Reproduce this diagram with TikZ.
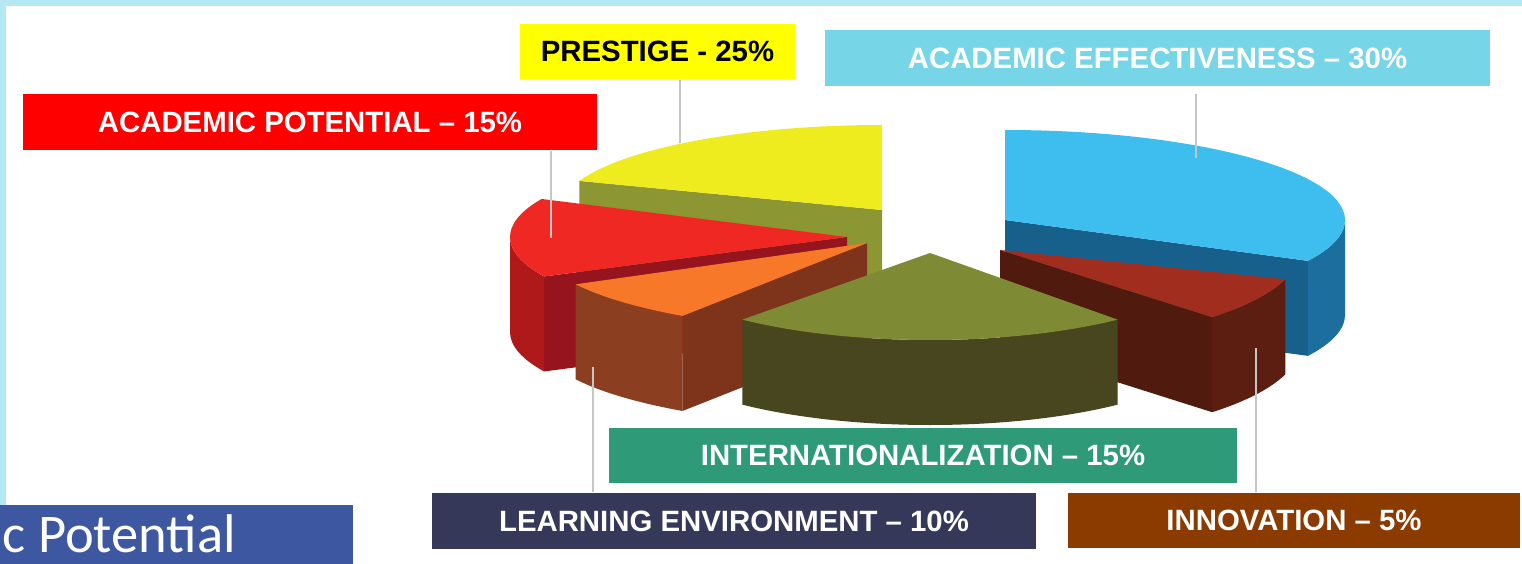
\documentclass[tikz,border=0pt]{standalone}
\usepackage{fontspec}
\setmainfont{Liberation Sans}
\newfontfamily\titlefont{Carlito}
\usetikzlibrary{calc,positioning}
\definecolor{framecyan}{RGB}{180,232,243}
\definecolor{potentialred}{RGB}{255,0,0}
\definecolor{prestigeyellow}{RGB}{255,255,0}
\definecolor{effectcyan}{RGB}{119,213,232}
\definecolor{internatgreen}{RGB}{46,154,120}
\definecolor{learnnavy}{RGB}{54,56,89}
\definecolor{innovbrown}{RGB}{139,58,0}
\definecolor{titleblue}{RGB}{61,88,160}
% slice colours
\definecolor{prestigetop}{RGB}{238,236,30}
\definecolor{prestigeface}{RGB}{140,150,50}
\definecolor{potentialtop}{RGB}{240,40,35}
\definecolor{potentialface}{RGB}{150,20,30}
\definecolor{potentialside}{RGB}{175,25,25}
\definecolor{learntop}{RGB}{246,120,40}
\definecolor{learnside}{RGB}{140,62,32}
\definecolor{learnface}{RGB}{125,52,26}
\definecolor{internattop}{RGB}{126,138,52}
\definecolor{internatside}{RGB}{72,70,30}
\definecolor{innovtop}{RGB}{160,45,30}
\definecolor{innovside}{RGB}{92,30,16}
\definecolor{innovface}{RGB}{80,26,14}
\definecolor{effecttop}{RGB}{62,190,238}
\definecolor{effectside}{RGB}{28,110,158}
\definecolor{effectface}{RGB}{24,96,140}

\begin{document}
\begin{tikzpicture}[
    x=0.01cm, y=-0.01cm,
    labelbox/.style={
    rectangle,
    inner sep=0pt,
    minimum height=0.56cm,
    text=white,
    font=\fontsize{8.35}{10}\selectfont\bfseries},
    leader/.style={draw=gray!45, line width=0.7pt}
    ]
    \useasboundingbox (0,0) rectangle (1522,564);
    \fill[framecyan] (0,0) rectangle (1522,564);
    \fill[white] (6,6) rectangle (1522,564);

    % apices of the slices
    \coordinate (Y) at (882,210);
    \coordinate (R) at (847,237);
    \coordinate (O) at (867,243);
    \coordinate (G) at (930,253);
    \coordinate (N) at (1000,250);
    \coordinate (B) at (1005,220);

    % prestige
    \fill[prestigeface] (Y) -- ($(Y)+(200:322 and 85)$) -- ++(0,95) -- ($(Y)+(0,95)$) -- cycle;
    \fill[prestigetop] (Y) -- ($(Y)+(200:322 and 85)$)
        arc[start angle=200, end angle=270, x radius=322, y radius=85] -- cycle;
    % academic effectiveness
    \fill[effectface] (B) -- ($(B)+(27:340 and 90)$) -- ++(0,95) -- ($(B)+(0,95)$) -- cycle;
    \fill[effectside] ($(B)+(0:340 and 90)$)
        arc[start angle=0, end angle=27, x radius=340, y radius=90] -- ++(0,95)
        arc[start angle=27, end angle=0, x radius=340, y radius=90] -- cycle;
    \fill[effecttop] (B) -- ($(B)+(-90:340 and 90)$)
        arc[start angle=-90, end angle=27, x radius=340, y radius=90] -- cycle;
    % academic potential
    \fill[potentialface] (R) -- ($(R)+(154:337 and 90)$) -- ++(0,95) -- ($(R)+(0,95)$) -- cycle;
    \fill[potentialside] ($(R)+(154:337 and 90)$)
        arc[start angle=154, end angle=180, x radius=337, y radius=90] -- ++(0,95)
        arc[start angle=180, end angle=154, x radius=337, y radius=90] -- cycle;
    \fill[potentialtop] (R) -- ($(R)+(154:337 and 90)$)
        arc[start angle=154, end angle=205, x radius=337, y radius=90] -- cycle;
    % innovation
    \fill[innovface] (N) -- ($(N)+(45:300 and 95)$) -- ++(0,95) -- ($(N)+(0,95)$) -- cycle;
    \fill[innovside] ($(N)+(18:300 and 95)$)
        arc[start angle=18, end angle=45, x radius=300, y radius=95] -- ++(0,95)
        arc[start angle=45, end angle=18, x radius=300, y radius=95] -- cycle;
    \fill[innovtop] (N) -- ($(N)+(18:300 and 95)$)
        arc[start angle=18, end angle=45, x radius=300, y radius=95] -- cycle;
    % learning environment
    \fill[learnface] (O) -- ($(O)+(124:330 and 88)$) -- ++(0,95) -- ($(O)+(0,95)$) -- cycle;
    \fill[learnside] ($(O)+(124:330 and 88)$)
        arc[start angle=124, end angle=152, x radius=330, y radius=88] -- ++(0,95)
        arc[start angle=152, end angle=124, x radius=330, y radius=88] -- cycle;
    \fill[learntop] (O) -- ($(O)+(124:330 and 88)$)
        arc[start angle=124, end angle=152, x radius=330, y radius=88] -- cycle;
    % internationalization
    \fill[internatside] ($(G)+(50:292 and 87)$)
        arc[start angle=50, end angle=130, x radius=292, y radius=87] -- ++(0,85)
        arc[start angle=130, end angle=50, x radius=292, y radius=87] -- cycle;
    \fill[internattop] (G) -- ($(G)+(50:292 and 87)$)
        arc[start angle=50, end angle=130, x radius=292, y radius=87] -- cycle;

    % labels
    \node[labelbox, fill=potentialred, minimum width=5.74cm] (potential) at (310,122) {ACADEMIC POTENTIAL – 15\%};
    \node[labelbox, fill=prestigeyellow, text=black, minimum width=2.75cm, minimum height=0.55cm] (prestige) at (657.5,51.5) {PRESTIGE - 25\%};
    \node[labelbox, fill=effectcyan, minimum width=6.65cm] (effect) at (1157.5,58) {ACADEMIC EFFECTIVENESS – 30\%};
    \node[labelbox, fill=internatgreen, minimum width=6.28cm, minimum height=0.55cm] (internat) at (923,455.5) {INTERNATIONALIZATION – 15\%};
    \node[labelbox, fill=learnnavy, minimum width=6.04cm] (learning) at (734,521) {LEARNING ENVIRONMENT – 10\%};
    \node[labelbox, fill=innovbrown, minimum width=4.52cm, minimum height=0.55cm] (innov) at (1294,520.5) {INNOVATION – 5\%};
    \node[fill=titleblue, inner sep=0pt, minimum width=3.53cm, minimum height=0.59cm] (titlebar) at (176.5,534.5) {};
    \node[anchor=base west, inner sep=0pt, text=white, font=\titlefont\fontsize{15.5}{17}\selectfont] (title) at (2,552) {c Potential};

    % leader lines
    \coordinate (potentialend) at (551,238);
    \coordinate (prestigeend) at (680,143);
    \coordinate (effectend) at (1196,158);
    \coordinate (learningend) at (593,367);
    \coordinate (innovend) at (1256,348);
    \draw[leader] (potential.south -| potentialend) -- (potentialend);
    \draw[leader] (prestige.south -| prestigeend) -- (prestigeend);
    \draw[leader] ($(effect.south -| effectend)+(0,7)$) -- (effectend);
    \draw[leader] (learning.north -| learningend) -- (learningend);
    \draw[leader] (innov.north -| innovend) -- (innovend);
\end{tikzpicture}
\end{document}
